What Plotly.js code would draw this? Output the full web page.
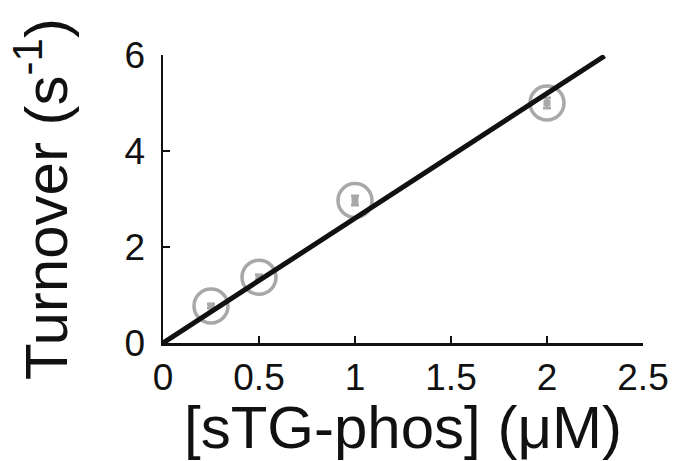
<!DOCTYPE html>
<html>
<head>
<meta charset="utf-8">
<script src="https://cdn.plot.ly/plotly-3.0.1.min.js"></script>
<style>html,body{margin:0;padding:0;background:#fff;}#chart{width:676px;height:461px;}</style>
</head>
<body>
<div id="chart"></div>
<script>
// Data
const concentration = [0.25, 0.5, 1, 2];          // [sTG-phos] (µM)
const turnover      = [0.77, 1.37, 2.97, 5.0];    // s^-1
const turnoverErr   = [0.04, 0.05, 0.1, 0.11];
const fitX = [0, 2.3];
const fitY = [0, 5.98];
const xTicks = [0, 0.5, 1, 1.5, 2, 2.5];
const xTickLabels = ['0', '0.5', '1', '1.5', '2', '2.5'];
const yTicks = [0, 2, 4, 6];
const yTickLabels = ['0', '2', '4', '6'];

const gray = '#aaa7a7';
const traces = [
  {
    x: concentration, y: turnover, type: 'scatter', mode: 'markers',
    marker: {symbol: 'circle-open', size: 34, color: gray, line: {width: 3.5, color: gray}},
    hoverinfo: 'skip', cliponaxis: false, showlegend: false
  },
  {
    x: concentration, y: turnover, type: 'scatter', mode: 'markers',
    marker: {symbol: 'square', size: 7, color: gray},
    error_y: {type: 'data', array: turnoverErr, visible: true, color: gray, thickness: 2.5, width: 4},
    cliponaxis: false, showlegend: false
  },
  {
    x: fitX, y: fitY, type: 'scatter', mode: 'lines',
    line: {color: '#111', width: 5},
    cliponaxis: false, showlegend: false
  }
];

const tickFont = {family: 'Liberation Sans, Arial, sans-serif', size: 37, color: '#111'};
const titleFont = {family: 'Liberation Sans, Arial, sans-serif', size: 60, color: '#111'};

const layout = {
  width: 676, height: 461,
  margin: {l: 163, r: 33, t: 55, b: 118},
  paper_bgcolor: '#fff', plot_bgcolor: '#fff',
  showlegend: false,
  xaxis: {
    range: [0, 2.5], tickvals: xTicks, ticktext: xTickLabels,
    ticks: 'inside', ticklen: 7, tickwidth: 2.5, tickcolor: '#111',
    showline: true, linecolor: '#111', linewidth: 2.5,
    showgrid: false, zeroline: false, tickfont: tickFont,
    title: {text: '[sTG-phos] (μM)', font: titleFont, standoff: 2}
  },
  yaxis: {
    range: [0, 6], tickvals: yTicks, ticktext: yTickLabels,
    ticks: 'inside', ticklen: 7, tickwidth: 2.5, tickcolor: '#111',
    showline: true, linecolor: '#111', linewidth: 2.5,
    showgrid: false, zeroline: false, tickfont: tickFont,
    ticklabelstandoff: 8,
    title: {text: 'Turnover (s<sup>-1</sup>)', font: titleFont, standoff: 38}
  }
};

Plotly.newPlot('chart', traces, layout, {staticPlot: true, displayModeBar: false});
</script>
</body>
</html>
